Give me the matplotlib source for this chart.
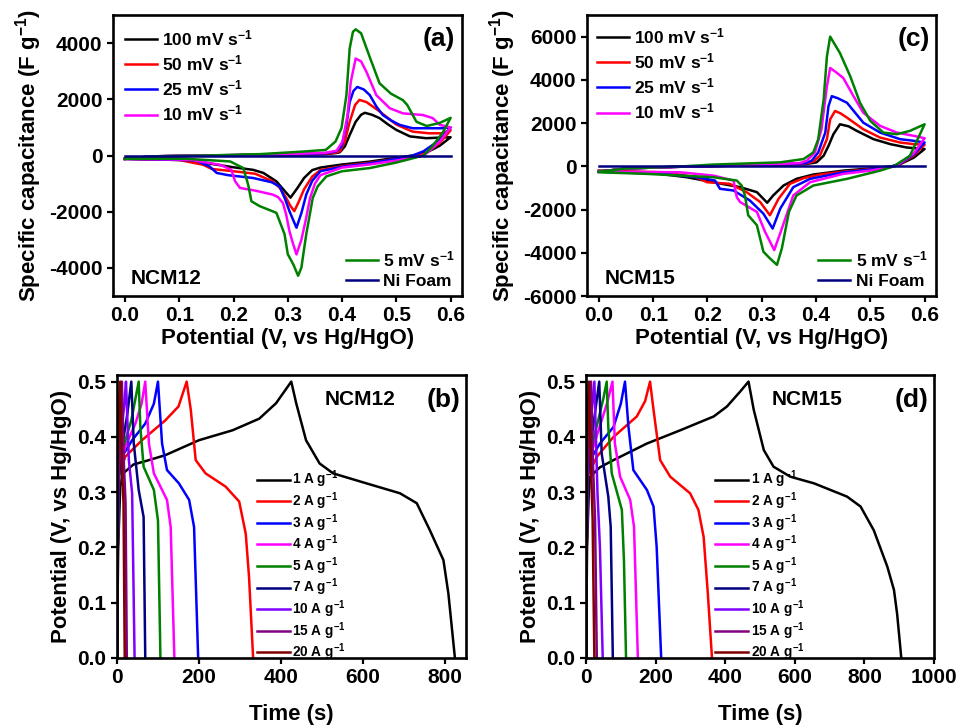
import matplotlib
matplotlib.use('Agg')
import matplotlib.pyplot as plt
from matplotlib.ticker import FormatStrFormatter

plt.rcParams['font.family'] = ['Liberation Sans', 'DejaVu Sans']
plt.rcParams['font.weight'] = 'bold'
plt.rcParams['axes.labelweight'] = 'bold'
plt.rcParams['axes.linewidth'] = 1.9
plt.rcParams['axes.unicode_minus'] = False
plt.rcParams['mathtext.fontset'] = 'custom'
plt.rcParams['mathtext.rm'] = 'Liberation Sans:bold'
plt.rcParams['mathtext.it'] = 'Liberation Sans:bold'
plt.rcParams['mathtext.bf'] = 'Liberation Sans:bold'
plt.rcParams['mathtext.sf'] = 'Liberation Sans:bold'
for ax_name in ['xtick', 'ytick']:
    plt.rcParams[ax_name + '.major.width'] = 1.6
    plt.rcParams[ax_name + '.major.size'] = 4
    plt.rcParams[ax_name + '.direction'] = 'out'
    plt.rcParams[ax_name + '.labelsize'] = 15

# ---------------- CV data, NCM12 (a) ----------------
a_100_v = [0.0, 0.05, 0.15, 0.3, 0.37, 0.39, 0.396, 0.405, 0.414, 0.425, 0.435, 0.442, 0.455, 0.469, 0.485, 0.5, 0.525, 0.555, 0.584, 0.6,
           0.58, 0.555, 0.53, 0.5, 0.45, 0.4, 0.36, 0.345, 0.33, 0.318, 0.305, 0.295, 0.279, 0.255, 0.236, 0.2, 0.17, 0.113, 0.0]
a_100_c = [-120, -30, 0, 30, 50, 90, 120, 320, 730, 1200, 1450, 1520, 1450, 1330, 1100, 910, 680, 615, 640, 650,
           350, 100, 0, -80, -220, -320, -430, -520, -800, -1150, -1500, -1280, -920, -620, -510, -420, -330, -160, -120]

a_50_v = [0.0, 0.05, 0.15, 0.3, 0.37, 0.39, 0.396, 0.405, 0.414, 0.424, 0.432, 0.445, 0.469, 0.5, 0.53, 0.56, 0.584, 0.6,
          0.58, 0.555, 0.54, 0.5, 0.45, 0.4, 0.36, 0.345, 0.33, 0.32, 0.312, 0.305, 0.297, 0.285, 0.272, 0.24, 0.2, 0.16, 0.144, 0.1, 0.0]
a_50_c = [-120, -30, 0, 30, 60, 110, 150, 500, 1200, 1800, 1980, 1900, 1570, 1100, 850, 790, 790, 900,
          450, 100, 0, -120, -260, -380, -520, -750, -1200, -1650, -1980, -1800, -1510, -1150, -920, -650, -560, -480, -330, -160, -120]

a_25_v = [0.0, 0.05, 0.15, 0.3, 0.37, 0.39, 0.399, 0.408, 0.414, 0.421, 0.428, 0.44, 0.451, 0.463, 0.475, 0.49, 0.506, 0.53, 0.584, 0.6,
          0.58, 0.55, 0.53, 0.5, 0.45, 0.4, 0.36, 0.345, 0.334, 0.325, 0.316, 0.31, 0.303, 0.295, 0.285, 0.27, 0.236, 0.19, 0.169, 0.156, 0.13, 0.0]
a_25_c = [-120, -30, 0, 40, 80, 150, 330, 1090, 1900, 2300, 2440, 2350, 2150, 1750, 1440, 1250, 1090, 970, 970, 1000,
          550, 150, 0, -120, -280, -400, -560, -900, -1390, -2050, -2570, -2300, -1980, -1550, -1100, -950, -800, -700, -620, -390, -170, -120]

a_10_v = [0.0, 0.05, 0.15, 0.3, 0.37, 0.39, 0.401, 0.41, 0.416, 0.425, 0.435, 0.445, 0.463, 0.488, 0.512, 0.549, 0.567, 0.58, 0.6,
          0.58, 0.56, 0.55, 0.5, 0.45, 0.4, 0.36, 0.35, 0.341, 0.333, 0.325, 0.316, 0.309, 0.303, 0.297, 0.291, 0.282, 0.272, 0.24,
          0.212, 0.203, 0.196, 0.175, 0.12, 0.0]
a_10_c = [-120, -30, 0, 50, 100, 170, 500, 1440, 2620, 3450, 3350, 2970, 2150, 1680, 1500, 1440, 1330, 1090, 1000,
          500, 150, 0, -180, -320, -430, -700, -1000, -1510, -2300, -3000, -3520, -3100, -2690, -2100, -1690, -1480, -1390, -1250,
          -1155, -920, -506, -330, -150, -120]

a_5_v = [0.0, 0.05, 0.15, 0.25, 0.328, 0.37, 0.388, 0.399, 0.408, 0.414, 0.42, 0.425, 0.435, 0.451, 0.469, 0.49, 0.512, 0.52, 0.537,
         0.556, 0.58, 0.6,
         0.585, 0.565, 0.55, 0.5, 0.451, 0.4, 0.371, 0.355, 0.346, 0.334, 0.325, 0.319, 0.31, 0.3, 0.294, 0.279, 0.248, 0.233, 0.227,
         0.218, 0.194, 0.113, 0.0]
a_5_c = [-120, -30, 0, 50, 140, 200, 500, 980, 2150, 3810, 4400, 4490, 4350, 3500, 2570, 2200, 1970, 1800, 1200,
         1050, 1160, 1340,
         800, 300, 0, -250, -447, -560, -743, -1100, -1510, -2800, -3990, -4280, -3870, -3515, -2800, -2040, -1800, -1630, -1040,
         -447, -212, -117, -117]

a_ni_v = [0.0, 0.6]
a_ni_c = [0, 0]

# ---------------- CV data, NCM15 (c) ----------------
c_100_v = [0.0, 0.05, 0.15, 0.3, 0.38, 0.401, 0.414, 0.423, 0.432, 0.444, 0.46, 0.475, 0.506, 0.537, 0.567, 0.6,
           0.58, 0.555, 0.54, 0.5, 0.45, 0.395, 0.364, 0.34, 0.321, 0.31, 0.291, 0.26, 0.21, 0.162, 0.088, 0.0]
c_100_c = [-250, -100, -20, 50, 100, 184, 490, 950, 1485, 1945, 1850, 1640, 1255, 1025, 870, 800,
           400, 100, 0, -100, -200, -380, -580, -890, -1350, -1685, -1195, -965, -735, -505, -275, -200]

c_50_v = [0.0, 0.05, 0.15, 0.3, 0.38, 0.395, 0.407, 0.42, 0.426, 0.435, 0.445, 0.457, 0.487, 0.518, 0.555, 0.58, 0.6,
          0.58, 0.555, 0.545, 0.5, 0.45, 0.407, 0.377, 0.352, 0.331, 0.315, 0.297, 0.272, 0.241, 0.199, 0.18, 0.119, 0.0]
c_50_c = [-250, -100, -20, 60, 120, 214, 490, 1255, 2175, 2560, 2450, 2250, 1715, 1330, 1100, 1025, 1000,
          500, 100, 0, -130, -250, -380, -550, -810, -1500, -2265, -1650, -1195, -810, -735, -505, -275, -220]

c_25_v = [0.0, 0.05, 0.15, 0.3, 0.38, 0.392, 0.404, 0.417, 0.423, 0.429, 0.44, 0.457, 0.487, 0.518, 0.555, 0.58, 0.6,
          0.58, 0.555, 0.54, 0.5, 0.45, 0.389, 0.358, 0.334, 0.32, 0.303, 0.278, 0.248, 0.223, 0.214, 0.18, 0.119, 0.0]
c_25_c = [-250, -100, -20, 70, 140, 260, 643, 1560, 2790, 3245, 3150, 2940, 2020, 1560, 1255, 1180, 1100,
          550, 120, 0, -150, -280, -580, -965, -1960, -2880, -2190, -1580, -1120, -1040, -660, -505, -350, -250]

c_10_v = [0.0, 0.05, 0.15, 0.3, 0.37, 0.383, 0.398, 0.41, 0.42, 0.426, 0.437, 0.45, 0.469, 0.487, 0.518, 0.549, 0.58, 0.6,
          0.58, 0.555, 0.545, 0.5, 0.45, 0.389, 0.358, 0.337, 0.323, 0.306, 0.291, 0.26, 0.254, 0.248, 0.211, 0.149, 0.0]
c_10_c = [-250, -100, -20, 80, 150, 260, 643, 1715, 3700, 4550, 4350, 4090, 3245, 2480, 1870, 1560, 1410, 1300,
          600, 150, 0, -200, -350, -735, -1350, -2880, -3875, -3030, -2110, -1650, -1425, -660, -430, -275, -250]

c_5_v = [0.0, 0.05, 0.15, 0.21, 0.334, 0.377, 0.395, 0.404, 0.414, 0.42, 0.426, 0.444, 0.463, 0.481, 0.5, 0.524, 0.549, 0.573, 0.6,
         0.573, 0.543, 0.518, 0.457, 0.395, 0.364, 0.35, 0.337, 0.328, 0.315, 0.303, 0.291, 0.275, 0.269, 0.263, 0.254, 0.211,
         0.088, 0.0]
c_5_c = [-250, -100, -10, 80, 184, 337, 643, 1255, 3090, 5080, 6000, 5240, 4165, 2940, 2100, 1560, 1485, 1640, 1945,
         490, 0, -200, -580, -890, -1350, -2110, -3800, -4560, -4260, -3950, -2725, -2265, -1350, -890, -660, -505,
         -350, -275]

c_ni_v = [0.0, 0.6]
c_ni_c = [0, 0]

# ---------------- GCD data, NCM12 (b) ----------------
b_1_t = [0, 3, 8, 15, 40, 78, 118, 200, 282, 347, 388, 425, 437, 461, 494, 527, 608, 690, 731, 763, 796, 808, 824]
b_1_p = [0, 0.2, 0.31, 0.334, 0.35, 0.358, 0.367, 0.394, 0.412, 0.433, 0.461, 0.5, 0.461, 0.394, 0.352, 0.334, 0.316,
         0.298, 0.28, 0.231, 0.177, 0.117, 0.0]
b_2_t = [0, 2, 5, 20, 61, 118, 150, 170, 180, 192, 216, 265, 298, 314, 322, 332]
b_2_p = [0, 0.2, 0.33, 0.364, 0.394, 0.43, 0.455, 0.5, 0.449, 0.358, 0.334, 0.31, 0.283, 0.225, 0.147, 0.0]
b_3_t = [0, 2, 5, 12, 37, 69, 90, 100, 110, 122, 151, 176, 188, 198]
b_3_p = [0, 0.2, 0.33, 0.364, 0.394, 0.424, 0.46, 0.5, 0.388, 0.34, 0.316, 0.286, 0.237, 0.0]
b_4_t = [0, 2, 5, 20, 45, 60, 69, 78, 90, 122, 131, 140]
b_4_p = [0, 0.2, 0.33, 0.382, 0.424, 0.46, 0.5, 0.388, 0.334, 0.286, 0.237, 0.0]
b_5_t = [0, 2, 5, 15, 35, 53, 57, 65, 90, 100, 106]
b_5_p = [0, 0.2, 0.33, 0.38, 0.43, 0.5, 0.418, 0.346, 0.304, 0.249, 0.0]
b_7_t = [0, 2, 5, 12, 25, 35, 41, 53, 65, 69]
b_7_p = [0, 0.2, 0.33, 0.38, 0.44, 0.5, 0.388, 0.304, 0.255, 0.0]
b_10_t = [0, 1.5, 4, 10, 18, 22, 29, 37, 43]
b_10_p = [0, 0.2, 0.33, 0.4, 0.46, 0.5, 0.358, 0.298, 0.0]
b_15_t = [0, 1, 3, 8, 12, 17, 21, 24]
b_15_p = [0, 0.2, 0.35, 0.45, 0.5, 0.35, 0.28, 0.0]
b_20_t = [0, 1, 3, 6, 8, 12, 16, 19]
b_20_p = [0, 0.2, 0.38, 0.46, 0.5, 0.35, 0.28, 0.0]

# ---------------- GCD data, NCM15 (d) ----------------
d_1_t = [0, 3, 8, 11.5, 40, 79, 175, 271, 367, 405, 443, 467, 482, 511, 539, 587, 655, 750, 789, 827, 866, 885, 894, 906]
d_1_p = [0, 0.2, 0.3, 0.328, 0.345, 0.358, 0.388, 0.412, 0.437, 0.455, 0.482, 0.5, 0.449, 0.376, 0.346, 0.328, 0.316,
         0.292, 0.274, 0.231, 0.165, 0.123, 0.08, 0.0]
d_2_t = [0, 2, 5, 31, 79, 146, 170, 184, 194, 213, 242, 299, 323, 338, 350, 362]
d_2_p = [0, 0.2, 0.33, 0.364, 0.4, 0.437, 0.465, 0.5, 0.449, 0.358, 0.328, 0.298, 0.268, 0.219, 0.117, 0.0]
d_3_t = [0, 2, 5, 11.5, 40, 79, 100, 112, 122, 136, 175, 194, 203, 216]
d_3_p = [0, 0.2, 0.33, 0.358, 0.388, 0.418, 0.46, 0.5, 0.418, 0.34, 0.304, 0.274, 0.201, 0.0]
d_4_t = [0, 2, 5, 15, 40, 60, 76, 83, 98, 127, 138, 149]
d_4_p = [0, 0.2, 0.33, 0.37, 0.42, 0.46, 0.5, 0.388, 0.328, 0.286, 0.237, 0.0]
d_5_t = [0, 2, 5, 15, 35, 50, 59.5, 64, 74, 103, 109, 115]
d_5_p = [0, 0.2, 0.33, 0.38, 0.43, 0.47, 0.5, 0.418, 0.334, 0.268, 0.177, 0.0]
d_7_t = [0, 2, 5, 12, 25, 38, 45, 64, 71, 77]
d_7_p = [0, 0.2, 0.33, 0.38, 0.44, 0.5, 0.37, 0.292, 0.237, 0.0]
d_10_t = [0, 1.5, 4, 10, 18, 24, 33, 40, 48]
d_10_p = [0, 0.2, 0.33, 0.4, 0.46, 0.5, 0.298, 0.2, 0.0]
d_15_t = [0, 1, 3, 8, 14.4, 20, 26, 31]
d_15_p = [0, 0.2, 0.35, 0.45, 0.5, 0.35, 0.25, 0.0]
d_20_t = [0, 1, 3, 6, 8.6, 14, 19, 24]
d_20_p = [0, 0.2, 0.38, 0.46, 0.5, 0.35, 0.25, 0.0]

cv_labels = ['100 mV s$^{-1}$', '50 mV s$^{-1}$', '25 mV s$^{-1}$', '10 mV s$^{-1}$', '5 mV s$^{-1}$', 'Ni Foam']
cv_colors = ['black', '#ff0000', '#0000ff', '#ff00ff', '#008000', '#000080']

gcd_labels = ['1 A g$^{-1}$', '2 A g$^{-1}$', '3 A g$^{-1}$', '4 A g$^{-1}$', '5 A g$^{-1}$', '7 A g$^{-1}$',
              '10 A g$^{-1}$', '15 A g$^{-1}$', '20 A g$^{-1}$']
gcd_colors = ['black', '#ff0000', '#0000ff', '#ff00ff', '#008000', '#000080', '#8000ff', '#800080', '#800000']

LW = 1.8


def draw_cv(ax, curves, tag, sample, ylim, yticks, leg1_x, leg1_y, leg2_x, tag_x):
    lines = []
    for (v, c), col, lab in zip(curves, cv_colors, cv_labels):
        ln, = ax.plot(v, c, color=col, lw=LW, label=lab)
        lines.append(ln)
    ax.set_xlim(-0.022, 0.621)
    ax.set_ylim(*ylim)
    ax.set_xticks([0.0, 0.1, 0.2, 0.3, 0.4, 0.5, 0.6])
    ax.set_yticks(yticks)
    ax.xaxis.set_major_formatter(FormatStrFormatter('%.1f'))
    ax.set_xlabel('Potential (V, vs Hg/HgO)', fontsize=16, labelpad=2)
    ax.set_ylabel('Specific capacitance (F g$^{-1}$)', fontsize=16, labelpad=4)
    leg1 = ax.legend(lines[:4], cv_labels[:4], loc='center left', bbox_to_anchor=(leg1_x, leg1_y),
                     frameon=False, fontsize=12.5, handlelength=1.85, handletextpad=0.3,
                     labelspacing=0.3, borderaxespad=0, borderpad=0)
    ax.add_artist(leg1)
    ax.legend(lines[4:], cv_labels[4:], loc='center right', bbox_to_anchor=(leg2_x, 0.095),
              frameon=False, fontsize=12.5, handlelength=1.85, handletextpad=0.3,
              labelspacing=0.25, borderaxespad=0, borderpad=0)
    ax.text(tag_x, 0.915, tag, transform=ax.transAxes, ha='right', va='center', fontsize=19)
    ax.text(0.05, 0.064, sample, transform=ax.transAxes, ha='left', va='center', fontsize=15)


def draw_gcd(ax, curves, tag, sample, xmax, xticks, leg_x, sample_x):
    for (t, p), col, lab in zip(curves, gcd_colors, gcd_labels):
        ax.plot(t, p, color=col, lw=LW, label=lab)
    ax.set_xlim(0, xmax)
    ax.set_ylim(0, 0.512)
    ax.set_xticks(xticks)
    ax.set_yticks([0.0, 0.1, 0.2, 0.3, 0.4, 0.5])
    ax.yaxis.set_major_formatter(FormatStrFormatter('%.1f'))
    ax.set_xlabel('Time (s)', fontsize=16, labelpad=12)
    ax.set_ylabel('Potential (V, vs Hg/HgO)', fontsize=16, labelpad=4)
    ax.legend(loc='center left', bbox_to_anchor=(leg_x, 0.325), frameon=False, fontsize=9.8,
              handlelength=2.4, handletextpad=0.2, labelspacing=0.0, borderaxespad=0, borderpad=0)
    ax.text(0.983, 0.912, tag, transform=ax.transAxes, ha='right', va='center', fontsize=19)
    ax.text(sample_x, 0.912, sample, transform=ax.transAxes, ha='left', va='center', fontsize=15)


def main():
    fig = plt.figure(figsize=(9.61, 7.28), dpi=100)
    ax_a = fig.add_axes([0.1176, 0.5934, 0.3632, 0.386])
    ax_c = fig.add_axes([0.6108, 0.5934, 0.3632, 0.386])
    ax_b = fig.add_axes([0.1217, 0.0962, 0.3632, 0.3887])
    ax_d = fig.add_axes([0.6098, 0.0962, 0.3621, 0.3887])

    draw_cv(ax_a, [(a_100_v, a_100_c), (a_50_v, a_50_c), (a_25_v, a_25_c), (a_10_v, a_10_c),
                   (a_5_v, a_5_c), (a_ni_v, a_ni_c)],
            '(a)', 'NCM12', (-5000, 5000), [-4000, -2000, 0, 2000, 4000], 0.034, 0.783, 0.98, 0.98)
    draw_cv(ax_c, [(c_100_v, c_100_c), (c_50_v, c_50_c), (c_25_v, c_25_c), (c_10_v, c_10_c),
                   (c_5_v, c_5_c), (c_ni_v, c_ni_c)],
            '(c)', 'NCM15', (-6000, 7000), [-6000, -4000, -2000, 0, 2000, 4000, 6000], 0.029, 0.79, 0.975, 0.983)

    draw_gcd(ax_b, [(b_1_t, b_1_p), (b_2_t, b_2_p), (b_3_t, b_3_p), (b_4_t, b_4_p), (b_5_t, b_5_p),
                    (b_7_t, b_7_p), (b_10_t, b_10_p), (b_15_t, b_15_p), (b_20_t, b_20_p)],
             '(b)', 'NCM12', 851, [0, 200, 400, 600, 800], 0.401, 0.596)
    draw_gcd(ax_d, [(d_1_t, d_1_p), (d_2_t, d_2_p), (d_3_t, d_3_p), (d_4_t, d_4_p), (d_5_t, d_5_p),
                    (d_7_t, d_7_p), (d_10_t, d_10_p), (d_15_t, d_15_p), (d_20_t, d_20_p)],
             '(d)', 'NCM15', 1000, [0, 200, 400, 600, 800, 1000], 0.371, 0.534)

    fig.savefig('out.png', dpi=100)


if __name__ == '__main__':
    main()
